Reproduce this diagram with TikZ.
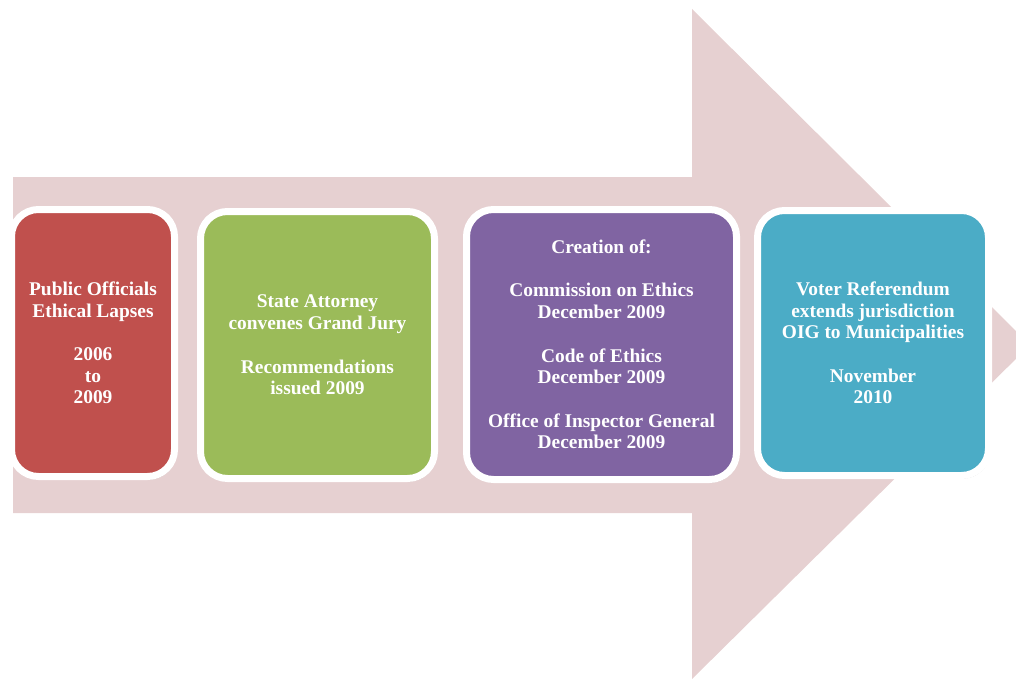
\documentclass[tikz,border=0pt]{standalone}
\usepackage{fontspec}
\setmainfont{Liberation Serif}
\usetikzlibrary{shadows}
\definecolor{arrowpink}{RGB}{230,208,209}
\definecolor{boxred}{RGB}{192,80,77}
\definecolor{boxgreen}{RGB}{155,187,89}
\definecolor{boxpurple}{RGB}{128,100,162}
\definecolor{boxteal}{RGB}{75,172,198}
\tikzset{
  stagebox/.style={rectangle, rounded corners=27pt, draw=white, line width=7pt,
    inner sep=0pt, align=center, text=white,
    font=\fontsize{19.4}{21.7}\selectfont\bfseries,
    drop shadow={shadow xshift=1.5pt, shadow yshift=-3pt, opacity=0.3, fill=black!70}},
}
\begin{document}
\begin{tikzpicture}[x=1pt, y=-1pt]
\useasboundingbox (0,0) rectangle (1016,679);
\begin{scope}
\clip (0,0) rectangle (1016,679);
\fill[arrowpink] (13,177) -- (692,177) -- (692,9) -- (1030,345) -- (692,679)
  -- (692,513) -- (13,513) -- cycle;
\end{scope}
\node[stagebox, fill=boxred, minimum width=163pt, minimum height=267pt] (b1) at (93,343)
  {Public Officials\\Ethical Lapses\\[21.7pt]2006\\to\\2009};
\node[stagebox, fill=boxgreen, minimum width=234pt, minimum height=267pt] (b2) at (317.5,345)
  {State Attorney\\convenes Grand Jury\\[21.7pt]Recommendations\\issued 2009};
\node[stagebox, fill=boxpurple, minimum width=270pt, minimum height=270pt] (b3) at (601.5,344.5)
  {Creation of:\\[21.7pt]Commission on Ethics\\December 2009\\[21.7pt]Code of Ethics\\December 2009\\[21.7pt]Office of Inspector General\\December 2009};
\node[stagebox, fill=boxteal, minimum width=231pt, minimum height=265pt] (b4) at (873,343)
  {Voter Referendum\\extends jurisdiction\\OIG to Municipalities\\[21.7pt]November\\2010};
\end{tikzpicture}
\end{document}
